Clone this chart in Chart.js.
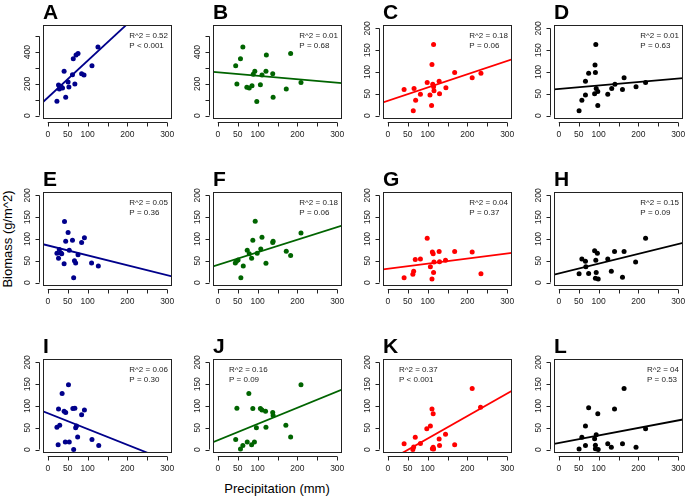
<!DOCTYPE html>
<html>
<head>
<meta charset="utf-8">
<script src="https://cdn.jsdelivr.net/npm/chart.js@4.4.1/dist/chart.umd.min.js"></script>
<style>
  body { margin: 0; background: #fff; width: 685px; height: 496px; position: relative; overflow: hidden;
         font-family: "Liberation Sans", Arial, sans-serif; }
  canvas { position: absolute; }
  .lab { position: absolute; font-size: 13px; color: #000; white-space: nowrap; transform: translate(-50%, -50%); }
</style>
</head>
<body>
<div class="lab" style="left:277px; top:488px;">Precipitation (mm)</div>
<div class="lab" style="left:7px; top:239px; transform: translate(-50%, -50%) rotate(-90deg);">Biomass (g/m^2)</div>
<script>
// tick marks / labels (R style: some labels dropped)
var xTicks = [0, 50, 100, 150, 200, 250, 300];
var xTickLabels = ['0', '50', '100', '', '200', '', '300'];
var yTicksBig = [0, 100, 200, 300, 400, 500];
var yTickLabelsBig = ['0', '', '200', '', '400', ''];
var yTicksSmall = [0, 50, 100, 150, 200];
var yTickLabelsSmall = ['0', '50', '100', '150', '200'];

// x ends used for the fitted lines (edges of the plot box)
var fitX = [-12, 312];

// A
var aX = [23, 27, 29, 31, 34, 37, 41, 45, 51, 53, 62, 64, 68, 71, 76, 85, 91, 111, 126];
var aY = [90, 193, 168, 185, 180, 174, 279, 115, 212, 180, 258, 358, 199, 383, 392, 264, 256, 314, 433];
var aFit = [85, 840];
var aStats = ['R^2 = 0.52', 'P < 0.001'];
// B
var bX = [45, 48, 57, 63, 73, 79, 86, 89, 93, 98, 107, 111, 121, 122, 138, 139, 172, 183, 209];
var bY = [314, 199, 358, 433, 178, 174, 188, 260, 279, 88, 195, 256, 279, 383, 264, 115, 168, 392, 209];
var bFit = [276, 205];
var bStats = ['R^2 = 0.01', 'P = 0.68'];
// C
var cX = [41, 64, 66, 70, 82, 99, 106, 110, 111, 113, 115, 115, 116, 129, 130, 146, 168, 212, 234];
var cY = [60, 11, 62, 35, 49, 76, 47, 23, 117, 72, 163, 66, 57, 79, 50, 64, 99, 87, 97];
var cFit = [30, 129];
var cStats = ['R^2 = 0.18', 'P = 0.06'];
// D
var dX = [51, 58, 67, 67, 75, 90, 91, 92, 93, 94, 98, 98, 123, 133, 141, 160, 164, 194, 218];
var dY = [11, 35, 47, 79, 97, 50, 116, 99, 163, 62, 55, 23, 49, 62, 72, 60, 87, 66, 76];
var dFit = [60, 86];
var dStats = ['R^2 = 0.01', 'P = 0.63'];
// E
var eX = [23, 27, 29, 33, 35, 41, 42, 45, 51, 54, 62, 65, 67, 70, 76, 85, 92, 110, 127];
var eY = [67, 56, 76, 68, 66, 43, 140, 95, 115, 74, 97, 11, 50, 45, 64, 92, 103, 45, 38];
var eFit = [88, 14];
var eStats = ['R^2 = 0.05', 'P = 0.36'];
// F
var fX = [44, 47, 51, 58, 64, 74, 79, 85, 88, 94, 99, 108, 111, 121, 138, 139, 172, 183, 209];
var fY = [45, 49, 52, 11, 38, 74, 66, 56, 97, 141, 67, 77, 104, 44, 92, 95, 72, 62, 114];
var fFit = [37, 131];
var fStats = ['R^2 = 0.18', 'P = 0.06'];
// G
var gX = [41, 63, 65, 69, 82, 99, 107, 111, 112, 114, 115, 116, 129, 130, 145, 168, 212, 234];
var gY = [11, 19, 26, 53, 54, 102, 36, 8, 70, 66, 23, 47, 71, 48, 51, 71, 70, 20];
var gFit = [30, 68];
var gStats = ['R^2 = 0.04', 'P = 0.37'];
// H
var hX = [51, 58, 67, 68, 75, 90, 92, 93, 94, 97, 99, 123, 132, 140, 160, 164, 193, 218];
var hY = [20, 54, 49, 36, 21, 73, 10, 51, 23, 67, 8, 54, 26, 71, 12, 71, 47, 102];
var hFit = [18, 91];
var hStats = ['R^2 = 0.15', 'P = 0.09'];
// I
var iX = [23, 26, 27, 30, 36, 41, 44, 45, 52, 54, 63, 65, 68, 70, 72, 75, 85, 92, 111, 128];
var iY = [51, 11, 93, 56, 129, 88, 17, 85, 149, 17, 94, 0, 95, 50, 54, 29, 80, 91, 23, 9];
var iFit = [88, -30];
var iStats = ['R^2 = 0.06', 'P = 0.30'];
// J
var jX = [45, 48, 57, 63, 74, 78, 85, 88, 92, 97, 107, 111, 120, 121, 138, 139, 171, 183, 209];
var jY = [23, 95, 1, 9, 17, 129, 11, 94, 17, 50, 94, 91, 88, 51, 85, 78, 56, 29, 149];
var jFit = [17, 138];
var jStats = ['R^2 = 0.16', 'P = 0.09'];
// K
var kX = [41, 63, 65, 69, 82, 98, 107, 111, 112, 114, 114, 115, 129, 130, 145, 168, 212, 233];
var kY = [13, 0, 6, 28, 14, 48, 54, 93, 2, 82, 5, 1, 24, 9, 35, 11, 140, 97];
var kFit = [-33, 135];
var kStats = ['R^2 = 0.37', 'P < 0.001'];
// L
var lX = [51, 58, 67, 67, 75, 90, 92, 92, 94, 98, 99, 123, 132, 140, 160, 164, 194, 218];
var lY = [1, 28, 9, 54, 96, 25, 10, 2, 34, 82, 0, 13, 5, 93, 13, 140, 5, 48];
var lFit = [13, 69];
var lStats = ['R^2 = 04', 'P = 0.53'];

var navy = '#00008B', green = '#006400', red = '#FF0000', black = '#000000';

var panels = [
  {t: 'A', x: aX, y: aY, fit: aFit, stats: aStats, col: navy,  big: true},
  {t: 'B', x: bX, y: bY, fit: bFit, stats: bStats, col: green, big: true},
  {t: 'C', x: cX, y: cY, fit: cFit, stats: cStats, col: red},
  {t: 'D', x: dX, y: dY, fit: dFit, stats: dStats, col: black},
  {t: 'E', x: eX, y: eY, fit: eFit, stats: eStats, col: navy},
  {t: 'F', x: fX, y: fY, fit: fFit, stats: fStats, col: green},
  {t: 'G', x: gX, y: gY, fit: gFit, stats: gStats, col: red},
  {t: 'H', x: hX, y: hY, fit: hFit, stats: hStats, col: black},
  {t: 'I', x: iX, y: iY, fit: iFit, stats: iStats, col: navy},
  {t: 'J', x: jX, y: jY, fit: jFit, stats: jStats, col: green, left: true},
  {t: 'K', x: kX, y: kY, fit: kFit, stats: kStats, col: red, left: true},
  {t: 'L', x: lX, y: lY, fit: lFit, stats: lStats, col: black}
];

// layout of the plot boxes
var colLeft = [43, 213, 383, 554];
var rowTop = [25, 192, 359];
var boxW = 129, boxH = 94;
var padL = 40, padT = 25, padR = 4, padB = 28;

const tickFont = '8.5px "Liberation Sans", Arial, sans-serif';

// draws R-like box, axes, tick labels, panel letter and stats
const rAxes = {
  id: 'rAxes',
  afterDraw(chart, args, o) {
    const ctx = chart.ctx, a = chart.chartArea;
    const x = chart.scales.x, y = chart.scales.y;
    ctx.save();
    ctx.strokeStyle = '#222';
    ctx.lineWidth = 1;
    ctx.strokeRect(a.left + 0.5, a.top + 0.5, a.right - a.left - 1, a.bottom - a.top - 1);

    // x axis
    const yb = Math.round(a.bottom + 3) + 0.5;
    ctx.beginPath();
    ctx.moveTo(x.getPixelForValue(xTicks[0]), yb);
    ctx.lineTo(x.getPixelForValue(xTicks[xTicks.length - 1]), yb);
    xTicks.forEach(function (t) {
      const px = Math.round(x.getPixelForValue(t)) + 0.5;
      ctx.moveTo(px, yb);
      ctx.lineTo(px, yb + 4);
    });
    // y axis
    const yt = o.big ? yTicksBig : yTicksSmall;
    const yl = o.big ? yTickLabelsBig : yTickLabelsSmall;
    const xl = Math.round(a.left - 4) + 0.5;
    ctx.moveTo(xl, y.getPixelForValue(yt[0]));
    ctx.lineTo(xl, y.getPixelForValue(yt[yt.length - 1]));
    yt.forEach(function (t) {
      const py = Math.round(y.getPixelForValue(t)) + 0.5;
      ctx.moveTo(xl, py);
      ctx.lineTo(xl - 4, py);
    });
    ctx.stroke();

    ctx.fillStyle = '#222';
    ctx.font = tickFont;
    ctx.textAlign = 'center';
    ctx.textBaseline = 'middle';
    xTicks.forEach(function (t, i) {
      if (xTickLabels[i]) ctx.fillText(xTickLabels[i], x.getPixelForValue(t), a.bottom + 16);
    });
    yt.forEach(function (t, i) {
      if (!yl[i]) return;
      ctx.save();
      ctx.translate(a.left - 15, y.getPixelForValue(t));
      ctx.rotate(-Math.PI / 2);
      ctx.fillText(yl[i], 0, 0);
      ctx.restore();
    });

    // stats
    ctx.font = '8px "Liberation Sans", Arial, sans-serif';
    ctx.textAlign = 'left';
    const w = Math.max(ctx.measureText(o.stats[0]).width, ctx.measureText(o.stats[1]).width);
    const sx = o.left ? a.left + 16 : a.right - 4 - w;
    ctx.fillText(o.stats[0], sx, a.top + 10.5);
    ctx.fillText(o.stats[1], sx, a.top + 21);

    // panel letter
    ctx.fillStyle = '#000';
    ctx.font = 'bold 21px "Liberation Sans", Arial, sans-serif';
    ctx.textBaseline = 'alphabetic';
    ctx.fillText(o.t, a.left, a.top - 6);
    ctx.restore();
  }
};

panels.forEach(function (p, k) {
  const r = Math.floor(k / 4), c = k % 4;
  const cv = document.createElement('canvas');
  cv.width = padL + boxW + padR;
  cv.height = padT + boxH + padB;
  cv.style.left = (colLeft[c] - padL) + 'px';
  cv.style.top = (rowTop[r] - padT) + 'px';
  document.body.appendChild(cv);

  const pts = p.x.map(function (v, i) { return {x: v, y: p.y[i]}; });
  const line = fitX.map(function (v, i) { return {x: v, y: p.fit[i]}; });

  new Chart(cv, {
    type: 'scatter',
    data: {
      datasets: [
        {data: pts, backgroundColor: p.col, borderColor: p.col, pointRadius: 2.5, pointBorderWidth: 0, clip: false},
        {type: 'line', data: line, borderColor: p.col, borderWidth: 1.8, pointRadius: 0, showLine: true, fill: false, clip: 0}
      ]
    },
    options: {
      responsive: false,
      animation: false,
      events: [],
      layout: {padding: {left: padL, top: padT, right: padR, bottom: padB}},
      plugins: {
        legend: {display: false},
        tooltip: {enabled: false},
        rAxes: {t: p.t, stats: p.stats, big: !!p.big, left: !!p.left}
      },
      scales: {
        x: {type: 'linear', display: false, min: -12, max: 312},
        y: {type: 'linear', display: false, min: p.big ? -22 : -8, max: p.big ? 572 : 208}
      }
    },
    plugins: [rAxes]
  });
});
</script>
</body>
</html>
